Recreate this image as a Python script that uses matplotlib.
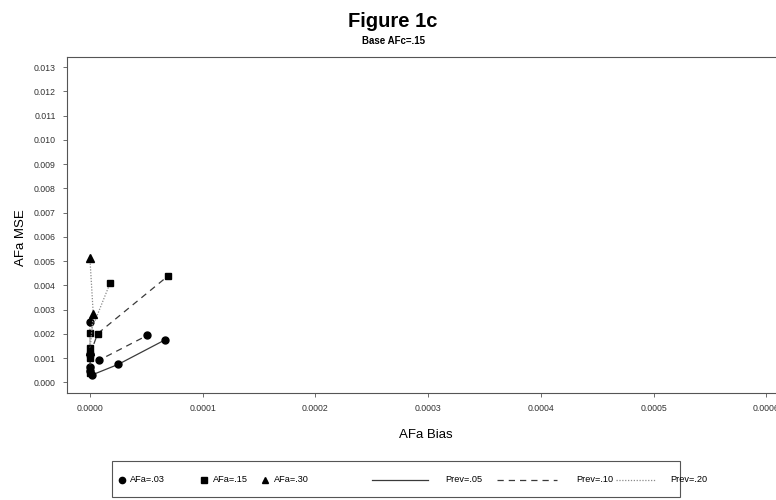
import matplotlib
matplotlib.use("Agg")
import matplotlib.pyplot as plt
from matplotlib.lines import Line2D
from matplotlib.patches import Rectangle
from matplotlib.ticker import FormatStrFormatter, MultipleLocator

plt.rcParams['font.family'] = ['Liberation Sans', 'DejaVu Sans']

# AFa groups (marker) and prevalence (line style)
afa_labels = ["AFa=.03", "AFa=.15", "AFa=.30"]
prev_labels = ["Prev=.05", "Prev=.10", "Prev=.20"]

# bias / MSE per (AFa, Prev) series
circ_p05_x = [1.5e-6, 2.5e-5, 6.65e-5]
circ_p05_y = [0.00030, 0.00074, 0.00175]
circ_p10_x = [0.0, 8.3e-6, 5.1e-5]
circ_p10_y = [0.00045, 0.00092, 0.00194]
circ_p20_x = [0.0, 0.0, -0.1e-6]
circ_p20_y = [0.00062, 0.00118, 0.00248]

sq_p05_x = [0.0, 0.0, 0.2e-6]
sq_p05_y = [0.00038, 0.00058, 0.00100]
sq_p10_x = [0.0, 6.8e-6, 6.9e-5]
sq_p10_y = [0.00115, 0.00201, 0.00438]
sq_p20_x = [0.0, 0.0, 1.78e-5]
sq_p20_y = [0.00140, 0.00202, 0.00409]

tri_p20_x = [0.0, 2.9e-6, -0.1e-6]
tri_p20_y = [0.00130, 0.00282, 0.00514]

series = [
    ("o", "-", circ_p05_x, circ_p05_y),
    ("o", "--", circ_p10_x, circ_p10_y),
    ("o", ":", circ_p20_x, circ_p20_y),
    ("s", "-", sq_p05_x, sq_p05_y),
    ("s", "--", sq_p10_x, sq_p10_y),
    ("s", ":", sq_p20_x, sq_p20_y),
    ("^", ":", tri_p20_x, tri_p20_y),
]

line_style = {
    "-": dict(color="#3a3a3a", linestyle="-", linewidth=0.9),
    "--": dict(color="#3a3a3a", linestyle=(0, (5, 4)), linewidth=0.9),
    ":": dict(color="#8a8a8a", linestyle=(0, (1, 1.3)), linewidth=0.9),
}
marker_size = {"o": 5.0, "s": 4.6, "^": 5.2}

fig = plt.figure(figsize=(7.76, 5.00), dpi=100)
ax = fig.add_axes([67 / 776, 0.214, (782 - 67) / 776, 0.6714])

for mk, ls, xs, ys in series:
    ax.plot(xs, ys, marker=mk, markersize=marker_size[mk], markerfacecolor="black",
            markeredgecolor="black", **line_style[ls])

ax.set_xlim(-0.0000204, 0.000614)
ax.set_ylim(-0.00044, 0.01341)
ax.xaxis.set_major_locator(MultipleLocator(0.0001))
ax.yaxis.set_major_locator(MultipleLocator(0.001))
ax.xaxis.set_major_formatter(FormatStrFormatter("%.4f"))
ax.yaxis.set_major_formatter(FormatStrFormatter("%.3f"))
ax.tick_params(direction="out", length=3, width=0.6, labelsize=6.3,
               colors="#555555", labelcolor="#333333", pad=5)
for sp in ax.spines.values():
    sp.set_color("#555555")
    sp.set_linewidth(0.8)

fig.text(393 / 776, 0.957, "Figure 1c", ha="center", va="center",
         fontsize=14.5, fontweight="bold")
fig.text(394 / 776, 0.917, "Base AFc=.15", ha="center", va="center",
         fontsize=7, fontweight="bold")
fig.text(426 / 776, 0.130, "AFa Bias", ha="center", va="center", fontsize=9.5)
fig.text(21 / 776, 0.525, "AFa MSE", ha="center", va="center", fontsize=9.5,
         rotation=90)

# legend box drawn in figure coordinates
fig.patches.append(Rectangle((112 / 776, 0.006), (680 - 112) / 776, 0.072,
                             transform=fig.transFigure, fill=False,
                             edgecolor="#555555", linewidth=0.8))
ly = 0.04
for (mk, mx, tx), lab in zip([("o", 122, 130), ("s", 204, 213), ("^", 265, 274)],
                             afa_labels):
    fig.add_artist(Line2D([mx / 776], [ly], marker=mk, markersize=marker_size[mk] - 0.5,
                          color="black", linestyle="none",
                          transform=fig.transFigure))
    fig.text(tx / 776, ly, lab, ha="left", va="center", fontsize=6.6)
for (ls, x0, x1, tx), lab in zip([("-", 372, 428, 445), ("--", 497, 557, 576),
                                  (":", 616, 656, 670)], prev_labels):
    fig.add_artist(Line2D([x0 / 776, x1 / 776], [ly, ly],
                          transform=fig.transFigure, **line_style[ls]))
    fig.text(tx / 776, ly, lab, ha="left", va="center", fontsize=6.6)

fig.savefig("out.png", dpi=100)
